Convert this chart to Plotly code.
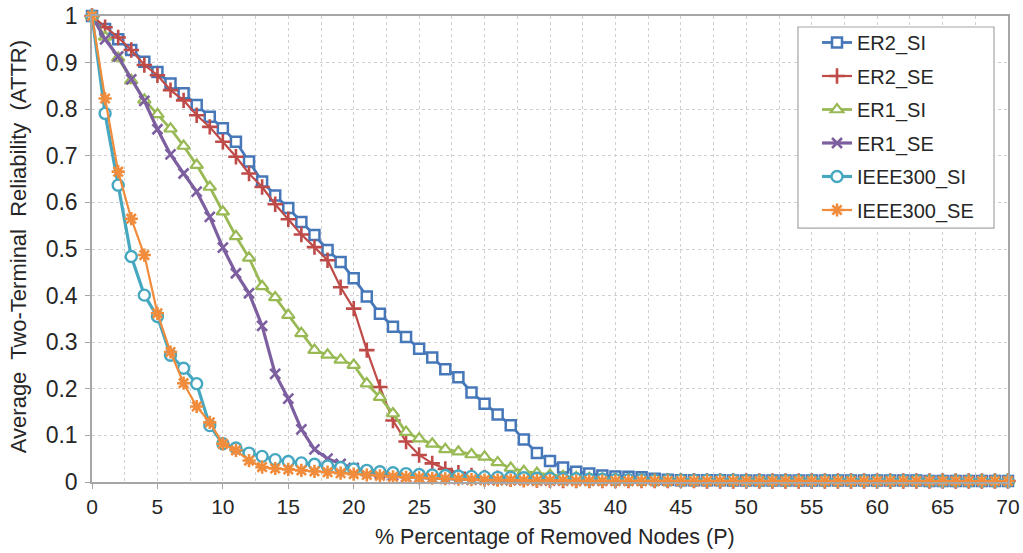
import plotly.graph_objects as go

# Percentage of removed nodes (P), 0..70
pct = list(range(0, 71))

er2_si = [1.000, 0.972, 0.950, 0.927, 0.902, 0.880, 0.855, 0.834, 0.809, 0.784,
          0.759, 0.730, 0.688, 0.645, 0.615, 0.588, 0.558, 0.530, 0.498, 0.472,
          0.437, 0.398, 0.361, 0.333, 0.311, 0.286, 0.267, 0.242, 0.225, 0.192,
          0.168, 0.145, 0.122, 0.091, 0.062, 0.045, 0.031, 0.022, 0.018, 0.014,
          0.012, 0.011, 0.010, 0.007, 0.005, 0.004, 0.004, 0.004, 0.004, 0.003,
          0.003, 0.003, 0.003, 0.003, 0.003, 0.003, 0.003, 0.003, 0.003, 0.003,
          0.003, 0.003, 0.003, 0.003, 0.002, 0.002, 0.002, 0.002, 0.002, 0.002,
          0.002]

er2_se = [1.000, 0.976, 0.954, 0.927, 0.895, 0.873, 0.841, 0.819, 0.787, 0.762,
          0.730, 0.698, 0.662, 0.633, 0.596, 0.564, 0.531, 0.504, 0.476, 0.418,
          0.372, 0.283, 0.204, 0.132, 0.087, 0.058, 0.040, 0.028, 0.020, 0.014,
          0.010, 0.008, 0.006, 0.005, 0.004, 0.004, 0.003, 0.003, 0.003, 0.003,
          0.003, 0.003, 0.003, 0.003, 0.003, 0.003, 0.003, 0.002, 0.002, 0.002,
          0.002, 0.002, 0.002, 0.002, 0.002, 0.002, 0.002, 0.002, 0.002, 0.002,
          0.002, 0.002, 0.002, 0.002, 0.002, 0.002, 0.002, 0.002, 0.002, 0.002,
          0.002]

er1_si = [1.000, 0.955, 0.910, 0.862, 0.820, 0.789, 0.758, 0.721, 0.680, 0.633,
          0.580, 0.527, 0.481, 0.420, 0.396, 0.358, 0.319, 0.283, 0.273, 0.262,
          0.251, 0.211, 0.182, 0.147, 0.107, 0.093, 0.082, 0.070, 0.065, 0.059,
          0.054, 0.042, 0.030, 0.023, 0.019, 0.015, 0.012, 0.010, 0.008, 0.007,
          0.006, 0.005, 0.005, 0.004, 0.004, 0.004, 0.003, 0.003, 0.003, 0.003,
          0.003, 0.003, 0.003, 0.003, 0.003, 0.003, 0.003, 0.003, 0.003, 0.003,
          0.003, 0.003, 0.003, 0.003, 0.003, 0.003, 0.003, 0.003, 0.003, 0.003,
          0.003]

er1_se = [1.000, 0.950, 0.913, 0.864, 0.818, 0.757, 0.703, 0.662, 0.623, 0.569,
          0.503, 0.448, 0.405, 0.335, 0.232, 0.179, 0.113, 0.070, 0.050, 0.039,
          0.030, 0.023, 0.018, 0.014, 0.011, 0.009, 0.008, 0.007, 0.006, 0.005,
          0.005, 0.004, 0.004, 0.004, 0.003, 0.003, 0.003, 0.003, 0.003, 0.003,
          0.003, 0.003, 0.003, 0.003, 0.003, 0.003, 0.003, 0.003, 0.003, 0.003,
          0.003, 0.003, 0.003, 0.003, 0.003, 0.003, 0.003, 0.003, 0.003, 0.003,
          0.003, 0.003, 0.003, 0.003, 0.003, 0.003, 0.003, 0.003, 0.003, 0.003,
          0.003]

ieee300_si = [1.000, 0.791, 0.637, 0.484, 0.401, 0.355, 0.272, 0.244, 0.211, 0.121,
              0.082, 0.073, 0.062, 0.055, 0.048, 0.044, 0.041, 0.038, 0.034, 0.031,
              0.028, 0.025, 0.022, 0.020, 0.018, 0.016, 0.015, 0.014, 0.013, 0.012,
              0.011, 0.010, 0.010, 0.009, 0.008, 0.008, 0.007, 0.007, 0.006, 0.006,
              0.005, 0.005, 0.005, 0.004, 0.004, 0.004, 0.004, 0.004, 0.004, 0.004,
              0.003, 0.003, 0.003, 0.003, 0.003, 0.003, 0.003, 0.003, 0.003, 0.003,
              0.003, 0.003, 0.003, 0.003, 0.002, 0.002, 0.002, 0.002, 0.002, 0.002,
              0.002]

ieee300_se = [1.000, 0.823, 0.666, 0.565, 0.487, 0.362, 0.279, 0.212, 0.162, 0.128,
              0.082, 0.068, 0.046, 0.032, 0.029, 0.027, 0.025, 0.023, 0.021, 0.019,
              0.017, 0.015, 0.013, 0.011, 0.010, 0.009, 0.008, 0.007, 0.006, 0.005,
              0.004, 0.004, 0.004, 0.003, 0.003, 0.003, 0.003, 0.002, 0.002, 0.002,
              0.002, 0.002, 0.002, 0.002, 0.002, 0.002, 0.002, 0.002, 0.002, 0.002,
              0.002, 0.002, 0.002, 0.002, 0.002, 0.002, 0.002, 0.002, 0.002, 0.002,
              0.002, 0.002, 0.002, 0.002, 0.002, 0.002, 0.002, 0.002, 0.002, 0.002,
              0.002]

x_ticks = list(range(0, 71, 5))
y_ticks = [0, 0.1, 0.2, 0.3, 0.4, 0.5, 0.6, 0.7, 0.8, 0.9, 1]
y_tick_text = ["0", "0.1", "0.2", "0.3", "0.4", "0.5", "0.6", "0.7", "0.8", "0.9", "1"]

FONT = "Liberation Sans, Arial, sans-serif"
TEXT = "#262626"
GRID = "#d0d0d0"
AXIS = "#a6a6a6"

series = [
    ("ER2_SI", er2_si, "#4677b8", 2.8, dict(symbol="square", size=10, color="white",
                                             line=dict(color="#4677b8", width=2.5))),
    ("ER2_SE", er2_se, "#be4b48", 2.2, dict(symbol="cross-thin", size=11,
                                             line=dict(color="#be4b48", width=2.6))),
    ("ER1_SI", er1_si, "#98b954", 2.8, dict(symbol="triangle-up", size=11, color="white",
                                             line=dict(color="#98b954", width=2.2))),
    ("ER1_SE", er1_se, "#7d5fa0", 3.2, dict(symbol="x-thin", size=10,
                                             line=dict(color="#7d5fa0", width=2.6))),
    ("IEEE300_SI", ieee300_si, "#46a7c0", 3.2, dict(symbol="circle", size=11, color="white",
                                                     line=dict(color="#46a7c0", width=2.4))),
    ("IEEE300_SE", ieee300_se, "#f08c3c", 2.2, dict(symbol="asterisk", size=11,
                                                     line=dict(color="#f08c3c", width=2.6))),
]

fig = go.Figure()
for i, (name, vals, color, lw, marker) in enumerate(series):
    fig.add_trace(go.Scatter(
        x=pct, y=vals, name=name, mode="lines+markers",
        line=dict(color=color, width=lw),
        marker=marker, cliponaxis=False, legendgroup=f"g{i}",
    ))

# legend frame (white box with grey border)
fig.add_shape(type="rect", xref="paper", yref="paper",
              x0=0.7707, x1=0.9847, y0=0.5446, y1=0.9764,
              fillcolor="white", line=dict(color="#a6a6a6", width=1.2), layer="above")

fig.add_annotation(text="% Percentage of Removed Nodes (P)", xref="paper", yref="paper",
                   x=0.505, y=-0.119, xanchor="center", yanchor="middle", showarrow=False,
                   font=dict(family=FONT, size=21.5, color=TEXT))
fig.add_annotation(text="Average\u00a0 Two-Terminal\u00a0 Reliability\u00a0 (ATTR)",
                   xref="paper", yref="paper", x=-0.0808, y=0.506, textangle=-90,
                   xanchor="center", yanchor="middle", showarrow=False,
                   font=dict(family=FONT, size=22, color=TEXT))

fig.update_layout(
    width=1023, height=553,
    margin=dict(l=92, r=15, t=16, b=71),
    paper_bgcolor="white", plot_bgcolor="white",
    font=dict(family=FONT, size=20, color=TEXT),
    showlegend=True,
    legend=dict(x=0.7915, y=0.985, xanchor="left", yanchor="top",
                bgcolor="rgba(0,0,0,0)", borderwidth=0,
                tracegroupgap=4.5, font=dict(family=FONT, size=20, color=TEXT)),
    xaxis=dict(range=[0, 70], tickmode="array", tickvals=x_ticks, automargin=False,
               showgrid=True, gridcolor=GRID, griddash="dot", gridwidth=1,
               minor=dict(dtick=2.5, showgrid=True, gridcolor=GRID, griddash="dot", ticklen=0),
               showline=True, linecolor=AXIS, linewidth=1.5, mirror=True,
               ticks="outside", ticklen=5, tickcolor=AXIS, zeroline=False,
               tickfont=dict(family=FONT, size=21, color=TEXT)),
    yaxis=dict(range=[0, 1], tickmode="array", tickvals=y_ticks, ticktext=y_tick_text,
               automargin=False, ticklabelstandoff=3,
               showgrid=True, gridcolor=GRID, griddash="dot", gridwidth=1,
               showline=True, linecolor=AXIS, linewidth=1.5, mirror=True,
               ticks="outside", ticklen=5, tickcolor=AXIS, zeroline=False,
               tickfont=dict(family=FONT, size=23, color=TEXT)),
)

fig.write_html("out.html")
